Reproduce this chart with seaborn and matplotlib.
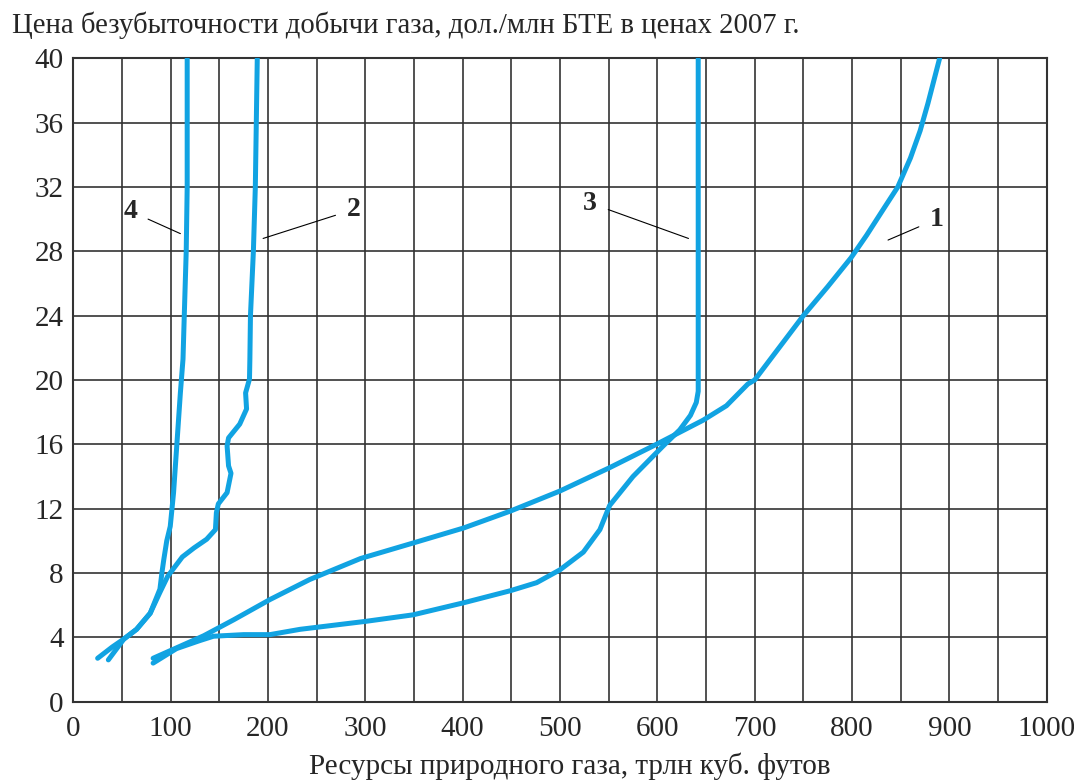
import matplotlib
matplotlib.use("Agg")
import matplotlib.pyplot as plt
import seaborn as sns
import numpy as np

# Данные кривых: ресурсы, трлн куб. футов / цена, дол./млн БТЕ
x1 = [82, 108, 134, 165, 202, 243, 295, 351, 401, 449, 500, 551, 599, 647, 671, 693, 700,
      725, 750, 775, 799, 815, 832, 847, 860, 870, 878, 884, 890]
y1 = [2.7, 3.4, 4.1, 5.1, 6.35, 7.6, 8.9, 9.9, 10.8, 11.85, 13.1, 14.55, 16.0, 17.5, 18.4, 19.75, 20.0,
      22.0, 24.0, 25.8, 27.6, 29.0, 30.6, 32.0, 33.8, 35.5, 37.2, 38.6, 40.0]

x2 = [36, 52, 65, 79, 89, 97, 112, 124, 137, 146, 147, 149, 158, 162, 159.5, 158, 159.5, 171,
      178, 177, 181, 181.4, 182, 185, 187, 189]
y2 = [2.6, 3.9, 4.5, 5.5, 6.8, 7.8, 9.0, 9.56, 10.1, 10.7, 11.75, 12.3, 13.0, 14.2, 14.66, 15.9, 16.4, 17.26,
      18.2, 19.2, 20.06, 21.3, 24.0, 28.0, 32.0, 40.0]

x3 = [82, 106, 130, 144, 175, 202, 233, 301, 349, 401, 449, 476, 500, 524, 541, 551, 575, 606,
      623, 634, 640, 642, 642, 642]
y3 = [2.4, 3.3, 3.8, 4.07, 4.17, 4.17, 4.5, 5.0, 5.4, 6.15, 6.9, 7.4, 8.2, 9.3, 10.7, 12.2, 14.0, 15.9,
      16.9, 17.8, 18.6, 19.3, 30.0, 40.0]

x4 = [25, 40, 52, 65, 79, 89, 91, 93, 96, 99.6, 103, 106.5, 110, 112.7, 114, 116, 117, 117, 117]
y4 = [2.7, 3.4, 3.9, 4.5, 5.5, 7.0, 8.0, 8.85, 10.0, 10.9, 13.0, 16.1, 19.2, 21.3, 24.0, 28.0, 32.0, 36.0, 40.0]

# подписи кривых: номер, позиция текста, конец выноски
labels = ["1", "2", "3", "4"]
label_xy = [(887, 30.0), (288, 30.6), (531, 31.0), (58.5, 30.5)]
arrow_xy = [(837, 28.7), (195, 28.8), (632, 28.8), (110, 29.1)]

x_ticks = np.arange(0, 1001, 100)
y_ticks = np.arange(0, 41, 4)

sns.set_style("white")
plt.rcParams['font.family'] = ['Liberation Serif', 'DejaVu Serif']

fig = plt.figure(figsize=(10.74, 7.81), dpi=100)
ax = fig.add_axes([73.3 / 1074, 1 - 701.7 / 781, (1046.7 - 73.3) / 1074, (701.7 - 58.3) / 781])

color = '#11A3E2'
for xs, ys in [(x1, y1), (x2, y2), (x3, y3), (x4, y4)]:
    sns.lineplot(x=xs, y=ys, sort=False, estimator=None, color=color, lw=3.6, ax=ax, zorder=3)
for l in ax.lines:
    l.set_solid_joinstyle('round')
    l.set_solid_capstyle('round')

for lab, (tx, ty), (ax_, ay) in zip(labels, label_xy, arrow_xy):
    ax.annotate(lab, xy=(ax_, ay), xytext=(tx, ty), fontsize=20, fontweight='bold',
                ha='center', va='center',
                arrowprops=dict(arrowstyle='-', color='black', lw=0.8, shrinkA=6, shrinkB=0))

ax.set_xlim(0, 1000)
ax.set_ylim(0, 40)
ax.set_xticks(x_ticks)
ax.set_xticks(np.arange(50, 1000, 100), minor=True)
ax.set_yticks(y_ticks)
ax.grid(True, which='both', color='#333333', lw=1.2)
ax.set_axisbelow(True)
ax.tick_params(which='both', length=0, labelsize=21)
ax.tick_params(axis='x', pad=10)
ax.tick_params(axis='y', pad=7)
for s in ax.spines.values():
    s.set_color('#333333')
    s.set_linewidth(1.5)

fig.text(570 / 1074, 1 - 766 / 781, "Ресурсы природного газа, трлн куб. футов",
         fontsize=21, ha='center', va='center')
fig.text(12 / 1074, 1 - 25 / 781, "Цена безубыточности добычи газа, дол./млн БТЕ в ценах 2007 г.",
         fontsize=20.7, ha='left', va='center')

fig.savefig("out.png", dpi=100)
